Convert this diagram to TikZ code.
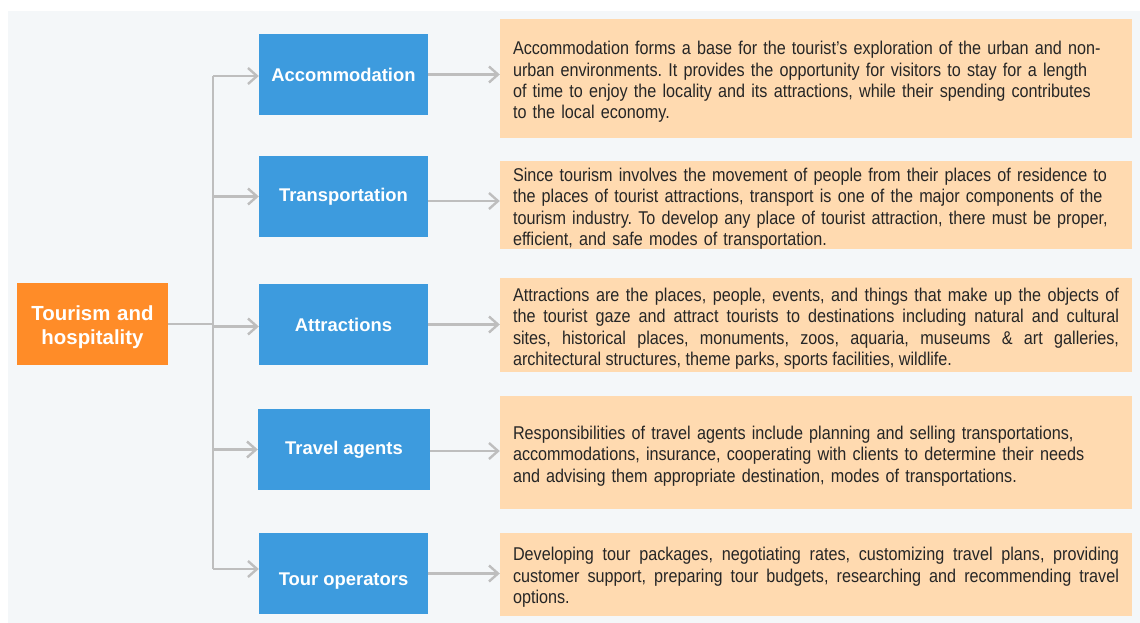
\documentclass[tikz,border=0pt]{standalone}
\usepackage{fontspec}
\setmainfont{Liberation Sans}
\newfontfamily\bodyfont[FakeStretch=0.875]{Liberation Sans}
\usetikzlibrary{arrows.meta}
\frenchspacing

\definecolor{bgGray}{HTML}{F4F7F9}
\definecolor{boxBlue}{HTML}{3D9BDE}
\definecolor{rootOrange}{HTML}{FF8C28}
\definecolor{notePeach}{HTML}{FFDAB0}
\definecolor{linkGray}{HTML}{BEBEBE}
\definecolor{noteText}{HTML}{262626}

\tikzset{
  rootbox/.style={fill=rootOrange, text=white, font=\fontsize{20.4}{24}\selectfont\bfseries,
    minimum width=151pt, minimum height=82pt, text width=151pt, align=center, inner sep=0pt,
    execute at begin node={\rule{0pt}{20.6pt}}},
  topicbox/.style={fill=boxBlue, text=white, font=\fontsize{18.4}{21}\selectfont\bfseries,
    minimum width=169pt, minimum height=81pt, inner sep=0pt},
  notebox/.style={fill=notePeach, text=noteText, font=\bodyfont\fontsize{18.5}{21.4}\selectfont,
    minimum width=632pt, text width=606pt, inner xsep=13pt, inner ysep=0pt,
    execute at begin node={\rule{0pt}{20.5pt}}},
  link/.style={draw=linkGray, line width=2.6pt, -{Straight Barb[length=9pt,width=16pt,line width=2.4pt]}}
}

\begin{document}
\begin{tikzpicture}[x=1pt, y=-1pt]
    % Frame and background
    \def\trunkX{213}
    \useasboundingbox (0,0) rectangle (1140,623);
    \fill[bgGray] (8,11) rectangle (1140,623);

    % Root
    \node[rootbox] (root) at (92.5,324) {Tourism and\\hospitality};

    % Topics
    \node[topicbox] (acc) at (343.5,74.5) {Accommodation};
    \node[topicbox] (trans) at (343.5,196.5) {Transportation};
    \node[topicbox] (attr) at (343.5,324.5) {Attractions};
    \node[topicbox, minimum width=172pt] (agents) at (344,449.5) {Travel agents};
    \node[topicbox] (oper) at (343.5,573.5) {\raisebox{-12pt}[0pt][0pt]{Tour operators}};

    % Descriptions
    \node[notebox, minimum height=119pt, align=left] (accT) at (816,78.5)
      {Accommodation forms a base for the tourist’s exploration of the urban and non-\\
       urban environments. It provides the opportunity for visitors to stay for a length\\
       of time to enjoy the locality and its attractions, while their spending contributes\\
       to the local economy.};
    \node[notebox, minimum height=88pt, align=left] (transT) at (816,205)
      {Since tourism involves the movement of people from their places of residence to\\
       the places of tourist attractions, transport is one of the major components of the\\
       tourism industry. To develop any place of tourist attraction, there must be proper,\\
       efficient, and safe modes of transportation.};
    \node[notebox, minimum height=94pt, align=justify] (attrT) at (816,325)
      {Attractions are the places, people, events, and things that make up the objects of\linebreak
       the tourist gaze and attract tourists to destinations including natural and cultural\linebreak
       sites, historical places, monuments, zoos, aquaria, museums \& art galleries,\linebreak
       architectural structures, theme parks, sports facilities, wildlife.};
    \node[notebox, minimum height=113pt, align=left] (agentsT) at (816,452.5)
      {Responsibilities of travel agents include planning and selling transportations,\\
       accommodations, insurance, cooperating with clients to determine their needs\\
       and advising them appropriate destination, modes of transportations.};
    \node[notebox, minimum height=83pt, align=justify] (operT) at (816,574)
      {Developing tour packages, negotiating rates, customizing travel plans, providing\linebreak
       customer support, preparing tour budgets, researching and recommending travel\linebreak
       options.};

    % Trunk
    \coordinate (trunk) at (\trunkX,324);
    \draw[linkGray, line width=2.6pt] (root.east) -- (trunk);
    \draw[linkGray, line width=2.6pt] ([yshift=-1.5pt]trunk |- acc.west) -- ([yshift=4.5pt]trunk |- oper.west);

    % Arrows (in: shift of the arrow into the topic, out: shift of the arrow to the note)
    \foreach \t/\n/\in/\out in {acc/accT/-1.5/0, trans/transT/0/-4.5, attr/attrT/-2/0,
                                agents/agentsT/0/-1.5, oper/operT/4.5/0} {
        \draw[link] ([yshift=\in pt]trunk |- \t.west) -- ([yshift=\in pt]\t.west);
        \draw[link] ([yshift=\out pt]\t.east) -- ([yshift=\out pt]\t.east -| \n.west);
    }
\end{tikzpicture}
\end{document}
